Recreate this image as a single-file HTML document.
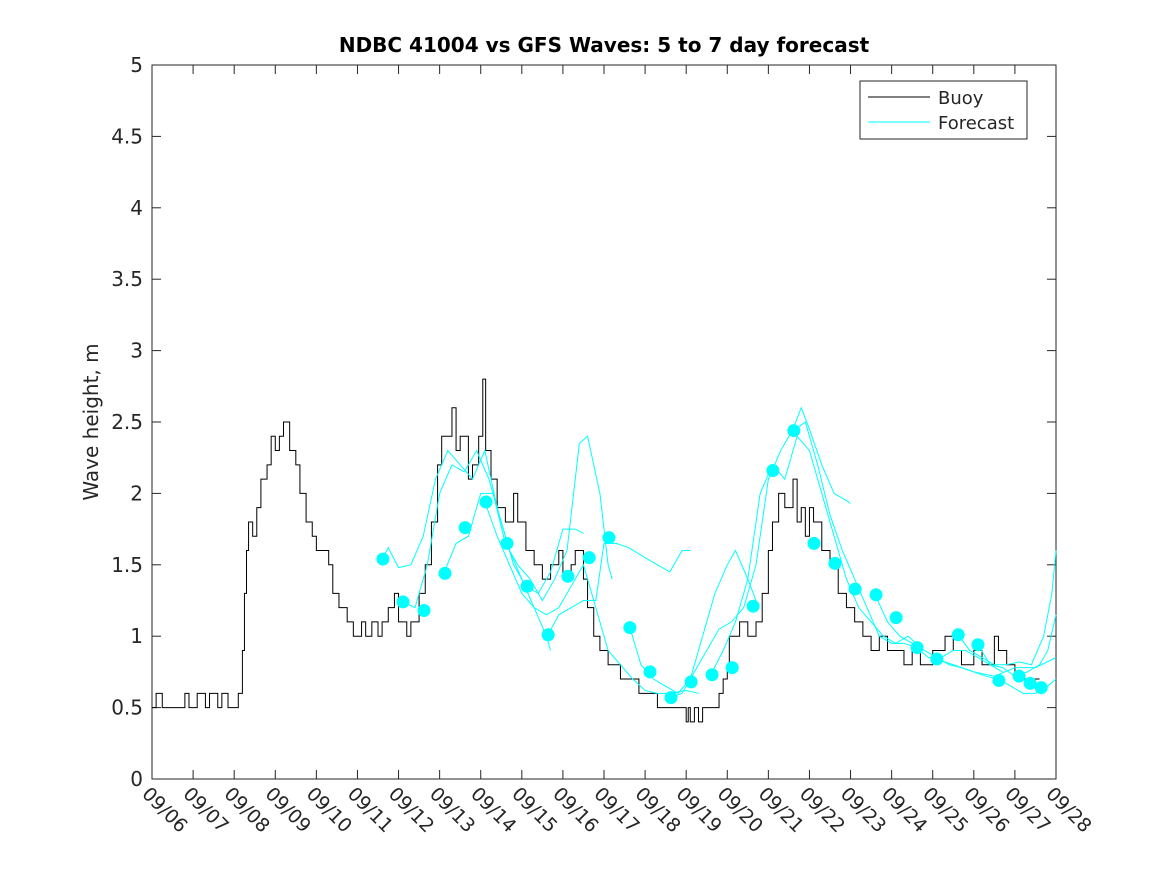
<!DOCTYPE html>
<html><head><meta charset="utf-8"><style>
body{margin:0;background:#fff;}
svg{display:block;font-family:"DejaVu Sans","Liberation Sans",sans-serif;}
</style></head><body>
<svg id="chart" width="1167" height="875">
<rect width="1167" height="875" fill="#fff"/>
<text x="604" y="52" text-anchor="middle" font-size="20" font-weight="bold">NDBC 41004 vs GFS Waves: 5 to 7 day forecast</text>
<text transform="translate(98,422) rotate(-90)" text-anchor="middle" font-size="20" fill="#262626">Wave height, m</text>
<g id="axes"></g>
<g id="series"></g>
<g>
<rect x="860" y="81" width="167" height="58" fill="#fff" stroke="#262626" stroke-width="1"/>
<line x1="868" y1="97" x2="930" y2="97" stroke="#000" stroke-width="1"/>
<text x="938" y="104" font-size="18" fill="#262626">Buoy</text>
<line x1="868" y1="122" x2="930" y2="122" stroke="#00ffff" stroke-width="1"/>
<text x="938" y="129" font-size="18" fill="#262626">Forecast</text>
</g>
</svg>
<script>
const xLabels=["09/06","09/07","09/08","09/09","09/10","09/11","09/12","09/13","09/14","09/15","09/16","09/17","09/18","09/19","09/20","09/21","09/22","09/23","09/24","09/25","09/26","09/27","09/28"];
const yTicks=[0,0.5,1,1.5,2,2.5,3,3.5,4,4.5,5];
const yTickLabels=["0","0.5","1","1.5","2","2.5","3","3.5","4","4.5","5"];
const buoyDays=[0,0.1,0.25,0.8,0.9,1.1,1.3,1.4,1.6,1.7,1.85,2.1,2.2,2.25,2.3,2.35,2.45,2.55,2.65,2.8,2.9,3.0,3.1,3.2,3.35,3.5,3.6,3.75,3.9,4.0,4.3,4.4,4.55,4.75,4.9,5.1,5.2,5.35,5.5,5.6,5.75,5.9,6.0,6.2,6.3,6.5,6.65,6.8,6.95,7.05,7.3,7.4,7.5,7.7,7.8,7.95,8.05,8.12,8.25,8.4,8.6,8.8,8.9,9.1,9.3,9.5,9.7,9.9,10.0,10.2,10.3,10.5,10.6,10.75,10.9,11.1,11.4,11.85,12.3,13.0,13.05,13.1,13.2,13.3,13.4,13.8,13.9,14.0,14.05,14.3,14.5,14.7,14.85,15.0,15.1,15.25,15.4,15.6,15.7,15.8,15.9,16.0,16.1,16.3,16.5,16.7,16.9,17.1,17.3,17.5,17.7,17.9,18.3,18.5,18.7,19.0,19.3,19.5,19.7,20.0,20.2,20.5,20.6,20.8,21.0];
const buoyVals=[0.5,0.6,0.5,0.6,0.5,0.6,0.5,0.6,0.5,0.6,0.5,0.6,0.9,1.3,1.6,1.8,1.7,1.9,2.1,2.2,2.4,2.3,2.4,2.5,2.3,2.2,2.0,1.8,1.7,1.6,1.5,1.3,1.2,1.1,1.0,1.1,1.0,1.1,1.0,1.1,1.2,1.3,1.1,1.0,1.1,1.3,1.5,1.8,2.2,2.4,2.6,2.3,2.4,2.1,2.2,2.4,2.8,2.3,2.1,1.9,1.8,2.0,1.8,1.6,1.5,1.4,1.5,1.6,1.4,1.5,1.6,1.4,1.2,1.0,0.9,0.8,0.7,0.6,0.5,0.4,0.5,0.4,0.5,0.4,0.5,0.6,0.7,0.8,1.0,1.1,1.0,1.1,1.3,1.6,1.8,2.0,1.9,2.1,1.8,1.9,1.7,1.9,1.8,1.6,1.5,1.3,1.2,1.1,1.0,0.9,1.0,0.9,0.8,0.9,0.8,0.9,1.0,0.9,0.8,0.9,0.8,1.0,0.9,0.8,0.7];
const dotDays=[5.62,6.11,6.62,7.13,7.62,8.13,8.64,9.13,9.64,10.12,10.64,11.12,11.63,12.12,12.63,13.12,13.63,14.12,14.63,15.11,15.62,16.11,16.62,17.11,17.62,18.11,18.62,19.10,19.62,20.10,20.61,21.10,21.37,21.64];
const dotVals=[1.54,1.24,1.18,1.44,1.76,1.94,1.65,1.35,1.01,1.42,1.55,1.69,1.06,0.75,0.57,0.68,0.73,0.78,1.21,2.16,2.44,1.65,1.51,1.33,1.29,1.13,0.92,0.84,1.01,0.94,0.69,0.72,0.67,0.64];
const fcA_d=[5.62,5.75,6.0,6.3,6.6,6.9,7.2,7.5,7.8,8.1,8.4,8.7,9.0,9.3,9.6,9.7];
const fcA_v=[1.55,1.62,1.48,1.5,1.7,2.1,2.3,2.2,2.1,2.3,1.9,1.6,1.4,1.2,1.0,0.9];
const fcB_d=[6.1,6.4,6.7,7.0,7.3,7.6,7.9,8.2,8.5,8.8,9.1,9.4,9.7,10.0,10.3,10.5];
const fcB_v=[1.24,1.2,1.5,2.0,2.2,2.15,2.3,2.1,1.8,1.5,1.35,1.3,1.45,1.75,1.75,1.72];
const fcC_d=[7.1,7.4,7.7,8.0,8.3,8.6,8.9,9.2,9.5,9.8,10.1,10.4,10.6,10.9,11.1,11.2];
const fcC_v=[1.44,1.65,1.7,2.0,2.0,1.65,1.5,1.4,1.25,1.4,1.6,2.35,2.4,2.0,1.5,1.4];
const fcD_d=[9.64,9.9,10.2,10.5,10.8,11.0,11.3,11.6,12.0,12.3,12.6,12.9,13.1];
const fcD_v=[1.01,1.15,1.2,1.25,1.25,1.65,1.65,1.62,1.55,1.5,1.45,1.6,1.6];
const fcE_d=[8.1,8.4,8.7,9.0,9.3,9.6,9.9,10.2,10.5,10.8,11.1,11.4,11.7,12.0,12.3,12.6,13.0,13.3];
const fcE_v=[1.94,1.7,1.5,1.3,1.2,1.15,1.2,1.35,1.5,1.2,0.9,0.8,0.7,0.62,0.6,0.6,0.62,0.6];
const fcF_d=[11.63,11.9,12.2,12.5,12.8,13.1,13.4,13.7,14.0,14.2,14.5,14.7];
const fcF_v=[1.06,0.8,0.7,0.65,0.6,0.7,1.0,1.3,1.5,1.6,1.4,1.25];
const fcG_d=[12.6,12.9,13.2,13.5,13.8,14.1,14.4,14.7,15.0,15.3,15.6,15.8,16.0,16.3,16.6,16.9,17.0];
const fcG_v=[0.57,0.6,0.75,0.9,1.05,1.1,1.2,1.5,2.1,2.3,2.45,2.6,2.45,2.2,2.0,1.95,1.93];
const fcH_d=[13.6,13.9,14.2,14.5,14.8,15.1,15.4,15.7,16.0,16.3,16.6,16.9,17.2,17.5,17.8,18.1,18.4,18.6];
const fcH_v=[0.73,0.9,1.1,1.4,2.0,2.2,2.1,2.4,2.3,2.0,1.7,1.4,1.2,1.1,1.0,0.95,1.0,0.95];
const fcI_d=[15.62,15.9,16.2,16.5,16.8,17.1,17.4,17.7,18.0,18.3,18.6,18.9,19.2,19.5,19.8,20.1,20.4,20.7];
const fcI_v=[2.44,2.5,2.2,1.85,1.6,1.4,1.2,1.0,0.95,0.95,0.92,0.85,0.85,0.9,0.9,0.85,0.8,0.75];
const fcJ_d=[17.6,17.9,18.2,18.5,18.8,19.1,19.4,19.7,20.0,20.3,20.6,20.9,21.2,21.5,21.8,22.0];
const fcJ_v=[1.29,1.1,1.0,0.95,0.9,0.85,0.8,0.78,0.75,0.72,0.7,0.65,0.6,0.6,0.65,0.7];
const fcK_d=[19.62,19.9,20.2,20.5,20.8,21.1,21.4,21.7,21.9,22.0];
const fcK_v=[1.01,0.9,0.85,0.8,0.8,0.82,0.8,1.0,1.3,1.6];
const fcL_d=[20.1,20.4,20.7,21.0,21.3,21.6,21.8,22.0];
const fcL_v=[0.94,0.8,0.78,0.72,0.75,0.8,0.9,1.15];
const fcM_d=[19.1,19.5,20.0,20.5,21.0,21.5,22.0];
const fcM_v=[0.84,0.8,0.75,0.72,0.78,0.78,0.85];

const X0=152,X1=1056,Y0=779,Y1=65;
const xs=d=>X0+(X1-X0)*d/22;
const ys=v=>Y0-(Y0-Y1)*v/5;
const NS="http://www.w3.org/2000/svg";
function mk(tag,attrs,parent){const e=document.createElementNS(NS,tag);for(const k in attrs)e.setAttribute(k,attrs[k]);parent.appendChild(e);return e;}
const axes=document.getElementById('axes'),ser=document.getElementById('series');
const box=mk('rect',{x:X0,y:Y1,width:X1-X0,height:Y0-Y1,fill:'none',stroke:'#262626','stroke-width':1},axes);


xLabels.forEach((l,i)=>{const x=xs(i);
 const t1=mk('line',{x1:x,y1:Y0,x2:x,y2:Y0-9,stroke:'#262626'},axes);
 
 
 const t2=mk('line',{x1:x,y1:Y1,x2:x,y2:Y1+9,stroke:'#262626'},axes);
 
 
 const tx=mk('text',{transform:`translate(${x-11},${795}) rotate(45)`,'font-size':19,fill:'#262626'},axes);
 tx.textContent=l;
 
 
});
yTicks.forEach((v,i)=>{const y=ys(v);
 const t1=mk('line',{x1:X0,y1:y,x2:X0+9,y2:y,stroke:'#262626'},axes);
 
 
 const t2=mk('line',{x1:X1,y1:y,x2:X1-9,y2:y,stroke:'#262626'},axes);
 
 
 const tx=mk('text',{x:X0-9,y:y+7,'text-anchor':'end','font-size':20,fill:'#262626'},axes);
 tx.textContent=yTickLabels[i];
 
 
});
let p='';buoyDays.forEach((d,i)=>{const nx=i+1<buoyDays.length?buoyDays[i+1]:21.6;const y=ys(buoyVals[i]);p+=(i?'L':'M')+xs(d)+' '+y+'L'+xs(nx)+' '+y;});
const bl=mk('path',{d:p,fill:'none',stroke:'#000','stroke-width':1},ser);


const fcs=[[fcA_d,fcA_v],[fcB_d,fcB_v],[fcC_d,fcC_v],[fcD_d,fcD_v],[fcE_d,fcE_v],[fcF_d,fcF_v],[fcG_d,fcG_v],[fcH_d,fcH_v],[fcI_d,fcI_v],[fcJ_d,fcJ_v],[fcK_d,fcK_v],[fcL_d,fcL_v],[fcM_d,fcM_v]];
fcs.forEach(([d,v])=>{let q='';d.forEach((dd,i)=>{q+=(i?'L':'M')+xs(dd)+' '+ys(v[i]);});
 const l=mk('path',{d:q,fill:'none',stroke:'#00ffff','stroke-width':1},ser);
 
 
});
dotDays.forEach((d,i)=>{
 const c=mk('circle',{cx:xs(d),cy:ys(dotVals[i]),r:6.5,fill:'#00ffff'},ser);
 
 
});
</script>
</body></html>
